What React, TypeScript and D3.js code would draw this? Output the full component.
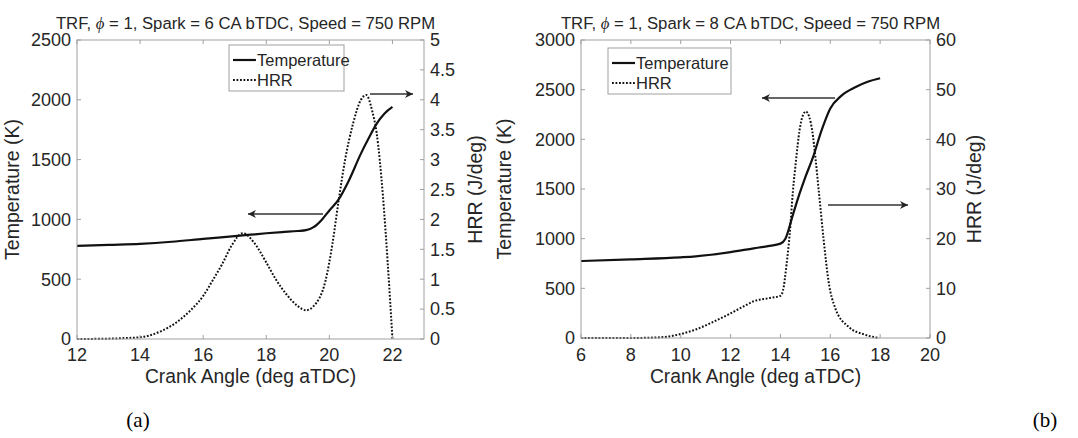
import React from 'react';
import * as d3 from 'd3';

// panel (a): spark 6 CA bTDC
const tempA_ca = [12, 13, 14, 15, 16, 17, 17.5, 18, 18.5, 19, 19.26, 19.5, 19.77, 20, 20.29, 20.6, 21, 21.25, 21.5, 21.75, 22];
const tempA = [778, 787, 796, 813, 837, 860, 872, 884, 894, 903, 910, 935, 1000, 1075, 1165, 1315, 1550, 1680, 1800, 1885, 1940];
const hrrA_ca = [12, 13, 13.5, 14, 14.3, 14.7, 15.16, 15.6, 16, 16.3, 16.6, 16.9, 17.26, 17.6, 18, 18.3, 18.65, 19, 19.26, 19.5, 19.88, 20.1, 20.29, 20.5, 20.75, 21, 21.17, 21.35, 21.5, 21.7, 21.85, 22];
const hrrA = [0, 0.006, 0.015, 0.03, 0.06, 0.14, 0.28, 0.48, 0.72, 0.98, 1.25, 1.56, 1.77, 1.62, 1.28, 1.0, 0.74, 0.55, 0.48, 0.55, 0.98, 1.6, 2.3, 3.0, 3.6, 4.0, 4.08, 3.83, 3.44, 2.38, 1.27, 0];

// panel (b): spark 8 CA bTDC
const tempB_ca = [6, 8, 10, 10.6, 12, 12.93, 13.5, 14, 14.2, 14.5, 14.75, 15, 15.3, 15.65, 16, 16.45, 17, 17.5, 18];
const tempB = [775, 792, 812, 822, 865, 903, 925, 950, 1000, 1240, 1440, 1620, 1815, 2090, 2310, 2440, 2525, 2580, 2615];
const hrrB_ca = [6, 8, 9, 9.5, 10, 10.6, 11.2, 11.9, 12.5, 12.93, 13.5, 14, 14.1, 14.25, 14.37, 14.5, 14.63, 14.76, 14.9, 15.02, 15.15, 15.28, 15.41, 15.54, 15.74, 15.93, 16.2, 16.72, 17.37, 17.96];
const hrrB = [0, 0, 0.1, 0.3, 0.8, 1.7, 3.0, 4.7, 6.3, 7.4, 8.0, 8.5, 9.5, 15, 20.8, 29.5, 36, 41.6, 44.8, 45.6, 44.6, 41.6, 36, 29.5, 19.5, 11.4, 6.0, 2.3, 0.7, 0];

const titleA = ['TRF, ', 'ϕ', ' = 1, Spark = 6 CA bTDC, Speed = 750 RPM'];
const titleB = ['TRF, ', 'ϕ', ' = 1, Spark = 8 CA bTDC, Speed = 750 RPM'];
const xLabel = 'Crank Angle (deg aTDC)';
const yLabelL = 'Temperature (K)';
const yLabelR = 'HRR (J/deg)';
const legendNames = ['Temperature', 'HRR'];

const FONT = '"Liberation Sans", Arial, sans-serif';
const AXIS = '#a0a0a0';
const TXT = '#262626';
const LINE = '#111';

const zip = (xs: number[], ys: number[]) => xs.map((x, i) => [x, ys[i]] as [number, number]);

type PanelProps = {
  box: { left: number; right: number; top: number; bottom: number };
  xDomain: [number, number];
  xTicks: number[];
  yLDomain: [number, number];
  yLTicks: number[];
  yRDomain: [number, number];
  yRTicks: number[];
  temp: [number, number][];
  hrr: [number, number][];
  title: string[];
  legend: { x: number; y: number; w: number; h: number };
  arrowL: [number, number, number]; // x1, x2, y  (points left)
  arrowR: [number, number, number]; // x1, x2, y  (points right)
  yLabelLX: number;
  yLabelRX: number;
  id: string;
};

const Panel = (p: PanelProps) => {
  const { left, right, top, bottom } = p.box;
  const x = d3.scaleLinear().domain(p.xDomain).range([left, right]);
  const yL = d3.scaleLinear().domain(p.yLDomain).range([bottom, top]);
  const yR = d3.scaleLinear().domain(p.yRDomain).range([bottom, top]);
  const tempLine = d3.line<[number, number]>().x(d => x(d[0])).y(d => yL(d[1])).curve(d3.curveMonotoneX);
  const hrrLine = d3.line<[number, number]>().x(d => x(d[0])).y(d => yR(d[1])).curve(d3.curveMonotoneX);
  const tl = 4;
  const cx = (left + right) / 2;
  const cy = (top + bottom) / 2;
  const lg = p.legend;
  const marker = `url(#arrow-${p.id})`;

  return (
    <g fontFamily={FONT} fill={TXT}>
      <defs>
        <marker id={`arrow-${p.id}`} viewBox="0 0 10 10" refX="10" refY="5" markerWidth="12" markerHeight="8" markerUnits="userSpaceOnUse" orient="auto">
          <path d="M0,0 L10,5 L0,10 L3,5 Z" fill="#222" />
        </marker>
      </defs>
      <text x={cx - 5} y={29} fontSize={16.7} textAnchor="middle">
        {p.title[0]}
        <tspan fontStyle="italic" fontFamily='"Liberation Serif", serif'>{p.title[1]}</tspan>
        {p.title[2]}
      </text>

      {/* curves */}
      <path d={tempLine(p.temp) || ''} fill="none" stroke={LINE} strokeWidth={2.2} />
      <path d={hrrLine(p.hrr) || ''} fill="none" stroke={LINE} strokeWidth={2} strokeDasharray="1.8,1.7" />

      {/* axes box */}
      <rect x={left} y={top} width={right - left} height={bottom - top} fill="none" stroke={AXIS} strokeWidth={1} />
      {p.xTicks.map(t => (
        <g key={`x${t}`}>
          <line x1={x(t)} x2={x(t)} y1={bottom} y2={bottom - tl} stroke={AXIS} />
          <line x1={x(t)} x2={x(t)} y1={top} y2={top + tl} stroke={AXIS} />
          <text x={x(t)} y={361} fontSize={18} textAnchor="middle">{t}</text>
        </g>
      ))}
      {p.yLTicks.map(t => (
        <g key={`yl${t}`}>
          <line x1={left} x2={left + tl} y1={yL(t)} y2={yL(t)} stroke={AXIS} />
          <text x={left - 6} y={yL(t)} dy="0.35em" fontSize={18} textAnchor="end">{t}</text>
        </g>
      ))}
      {p.yRTicks.map(t => (
        <g key={`yr${t}`}>
          <line x1={right} x2={right - tl} y1={yR(t)} y2={yR(t)} stroke={AXIS} />
          <text x={right + 6} y={yR(t)} dy="0.35em" fontSize={18} textAnchor="start">{t}</text>
        </g>
      ))}

      <text x={cx} y={383} fontSize={19.3} textAnchor="middle">{xLabel}</text>
      <text transform={`translate(${p.yLabelLX},${cy}) rotate(-90)`} fontSize={19.5} textAnchor="middle">{yLabelL}</text>
      <text transform={`translate(${p.yLabelRX},${cy}) rotate(-90)`} fontSize={19.5} textAnchor="middle">{yLabelR}</text>

      {/* legend */}
      <rect x={lg.x} y={lg.y} width={lg.w} height={lg.h} fill="#fff" stroke={AXIS} />
      <line x1={lg.x + 4} x2={lg.x + 27} y1={lg.y + 15} y2={lg.y + 15} stroke={LINE} strokeWidth={2.2} />
      <text x={lg.x + 28} y={lg.y + 20.5} fontSize={16.5}>{legendNames[0]}</text>
      <line x1={lg.x + 4} x2={lg.x + 27} y1={lg.y + 35} y2={lg.y + 35} stroke={LINE} strokeWidth={2} strokeDasharray="1.8,1.7" />
      <text x={lg.x + 28} y={lg.y + 41} fontSize={16.5}>{legendNames[1]}</text>

      {/* arrows */}
      <line x1={p.arrowL[0]} x2={p.arrowL[1]} y1={p.arrowL[2]} y2={p.arrowL[2]} stroke="#333" strokeWidth={1.6} markerEnd={marker} />
      <line x1={p.arrowR[0]} x2={p.arrowR[1]} y1={p.arrowR[2]} y2={p.arrowR[2]} stroke="#333" strokeWidth={1.6} markerEnd={marker} />
    </g>
  );
};

export default function App() {
  return (
    <svg width={1078} height={438} style={{ position: 'absolute', left: 0, top: 0, background: '#fff' }}>
      <rect width={1078} height={438} fill="#fff" />
      <Panel
        id="a"
        box={{ left: 77, right: 424, top: 40, bottom: 339 }}
        xDomain={[12, 23]}
        xTicks={d3.range(12, 23, 2)}
        yLDomain={[0, 2500]}
        yLTicks={d3.range(0, 2501, 500)}
        yRDomain={[0, 5]}
        yRTicks={d3.range(0, 5.01, 0.5)}
        temp={zip(tempA_ca, tempA)}
        hrr={zip(hrrA_ca, hrrA)}
        title={titleA}
        legend={{ x: 229, y: 45, w: 115, h: 46 }}
        arrowL={[323, 248, 214]}
        arrowR={[370, 413, 94]}
        yLabelLX={19}
        yLabelRX={482}
      />
      <Panel
        id="b"
        box={{ left: 581, right: 930, top: 40, bottom: 338 }}
        xDomain={[6, 20]}
        xTicks={d3.range(6, 21, 2)}
        yLDomain={[0, 3000]}
        yLTicks={d3.range(0, 3001, 500)}
        yRDomain={[0, 60]}
        yRTicks={d3.range(0, 61, 10)}
        temp={zip(tempB_ca, tempB)}
        hrr={zip(hrrB_ca, hrrB)}
        title={titleB}
        legend={{ x: 608, y: 48, w: 123, h: 46 }}
        arrowL={[835, 762, 98]}
        arrowR={[828, 908, 205]}
        yLabelLX={511}
        yLabelRX={981}
      />
      <text x={138} y={427} fontSize={21} fontFamily='"Liberation Serif", "Times New Roman", serif' textAnchor="middle" fill="#000">(a)</text>
      <text x={1045} y={427} fontSize={21} fontFamily='"Liberation Serif", "Times New Roman", serif' textAnchor="middle" fill="#000">(b)</text>
    </svg>
  );
}
